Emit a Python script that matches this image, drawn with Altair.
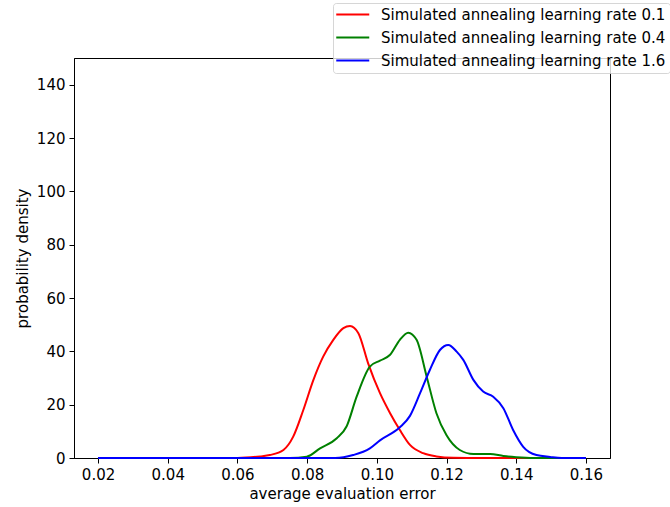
import altair as alt
import pandas as pd

series_names = [
    "Simulated annealing learning rate 0.1",
    "Simulated annealing learning rate 0.4",
    "Simulated annealing learning rate 1.6",
]
series_colors = ["#ff0000", "#008000", "#0000ff"]

red_x = [0.02, 0.06, 0.0665, 0.0693, 0.0732, 0.076, 0.0789, 0.0818, 0.0846, 0.0875,
         0.0904, 0.0923, 0.0947, 0.0975, 0.1009, 0.1038, 0.1066, 0.1095, 0.1133,
         0.1171, 0.122, 0.13, 0.16]
red_d = [0, 0, 0.6, 1.1, 3, 8, 18, 29.3, 38, 44.3,
         48.7, 49.5, 46.8, 35.5, 24.3, 16.8, 10.5, 4.9, 1.8,
         0.6, 0.1, 0, 0]

green_x = [0.02, 0.075, 0.0799, 0.0837, 0.0885, 0.0913, 0.0942, 0.098, 0.1009, 0.1038,
           0.1066, 0.109, 0.1114, 0.1143, 0.1171, 0.12, 0.1238, 0.1277, 0.1325,
           0.1363, 0.14, 0.145, 0.16]
green_d = [0, 0, 0.5, 3.6, 7.4, 11.8, 23, 34.3, 36.5, 38.7,
           44.3, 47, 44.3, 30.5, 16.8, 8.5, 3, 1.5, 1.5,
           0.75, 0.3, 0, 0]

blue_x = [0.02, 0.088, 0.0932, 0.098, 0.1009, 0.1066, 0.1095, 0.1124, 0.1152, 0.1181,
          0.1205, 0.1229, 0.1248, 0.1277, 0.1305, 0.1334, 0.1363, 0.1391, 0.142,
          0.1458, 0.1497, 0.153, 0.16]
blue_d = [0, 0, 1.1, 3.6, 6.6, 11.5, 15.8, 24.3, 33, 40.5,
          42.4, 39.9, 36.8, 29.3, 24.9, 23, 18.7, 10.5, 4.2,
          1.1, 0.4, 0, 0]

x_ticks = [0.02, 0.04, 0.06, 0.08, 0.10, 0.12, 0.14, 0.16]
y_ticks = [0, 20, 40, 60, 80, 100, 120, 140]

rows = []
for name, xs, ds in zip(series_names, [red_x, green_x, blue_x], [red_d, green_d, blue_d]):
    for i, (x, d) in enumerate(zip(xs, ds)):
        rows.append({"series": name, "x": x, "density": d, "order": i})
df = pd.DataFrame(rows)

FONT = "DejaVu Sans"
FS = 15

chart = alt.Chart(df).mark_line(interpolate="monotone", strokeWidth=2).encode(
    x=alt.X("x:Q",
            scale=alt.Scale(domain=[0.0131, 0.1669], nice=False, zero=False),
            axis=alt.Axis(values=x_ticks, format=".2f", title="average evaluation error",
                          grid=False, tickSize=5, labelPadding=4, titlePadding=4,
                          labelFlush=False, labelOverlap=False)),
    y=alt.Y("density:Q",
            scale=alt.Scale(domain=[0, 150], nice=False),
            axis=alt.Axis(values=y_ticks, format="d", title="probability density",
                          grid=False, tickSize=5, labelPadding=4, titlePadding=6,
                          labelFlush=False, labelOverlap=False)),
    color=alt.Color("series:N",
                    scale=alt.Scale(domain=series_names, range=series_colors),
                    legend=alt.Legend(title=None, orient="none", legendX=259, legendY=-55,
                                      symbolType="M-1.5,0L4.5,0", symbolSize=121,
                                      symbolStrokeWidth=2,
                                      fillColor="rgba(255,255,255,0.8)",
                                      strokeColor="rgba(204,204,204,0.8)",
                                      cornerRadius=3, padding=4,
                                      labelFontSize=FS, labelFont=FONT,
                                      labelColor="#000000", labelLimit=400,
                                      rowPadding=7, labelOffset=29)),
    order=alt.Order("order:Q"),
).properties(
    width=536,
    height=400,
    autosize=alt.AutoSizeParams(type="none"),
    padding={"left": 74, "top": 58, "right": 60, "bottom": 49},
).configure_view(
    stroke="#000000", strokeWidth=1
).configure_axis(
    labelFont=FONT, titleFont=FONT, labelFontSize=FS, titleFontSize=FS,
    labelColor="#000000", titleColor="#000000", titleFontWeight="normal",
    domainColor="#000000", tickColor="#000000", domainWidth=1, tickWidth=1,
)

chart.save("out.html", embed_options={"renderer": "svg", "actions": False})
